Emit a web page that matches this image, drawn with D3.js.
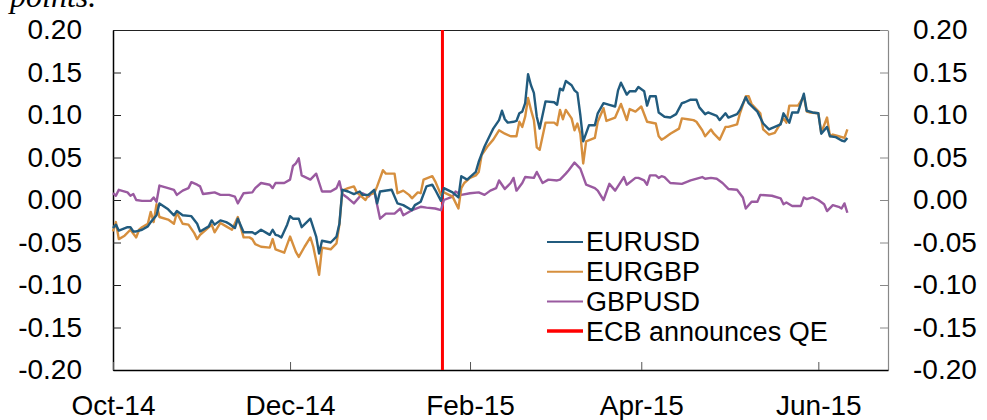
<!DOCTYPE html>
<html>
<head>
<meta charset="utf-8">
<script src="https://cdn.jsdelivr.net/npm/d3@7"></script>
<style>
  body { margin: 0; background: #fff; }
  svg text { font-family: "Liberation Sans", Arial, sans-serif; fill: #000; }
</style>
</head>
<body>
<svg id="chart" width="987" height="420"></svg>
<script>
// daily moves, percentage points
const eurusd = [
  ["2014-10-01",-0.033],["2014-10-02",-0.029],["2014-10-03",-0.036],["2014-10-06",-0.032],["2014-10-07",-0.032],
  ["2014-10-08",-0.037],["2014-10-09",-0.037],["2014-10-11",-0.035],["2014-10-13",-0.031],["2014-10-14",-0.026],
  ["2014-10-16",-0.018],["2014-10-17",-0.004],["2014-10-20",-0.011],["2014-10-22",-0.018],["2014-10-23",-0.013],
  ["2014-10-25",-0.018],["2014-10-28",-0.019],["2014-10-30",-0.028],["2014-10-31",-0.037],["2014-11-03",-0.031],
  ["2014-11-04",-0.024],["2014-11-05",-0.029],["2014-11-07",-0.024],["2014-11-09",-0.026],["2014-11-10",-0.028],
  ["2014-11-12",-0.033],["2014-11-13",-0.022],["2014-11-15",-0.038],["2014-11-18",-0.038],["2014-11-19",-0.040],
  ["2014-11-21",-0.035],["2014-11-23",-0.039],["2014-11-24",-0.041],["2014-11-25",-0.035],["2014-11-26",-0.041],
  ["2014-11-27",-0.042],["2014-11-28",-0.044],["2014-11-30",-0.029],["2014-12-01",-0.019],["2014-12-02",-0.022],
  ["2014-12-04",-0.022],["2014-12-05",-0.032],["2014-12-08",-0.022],["2014-12-10",-0.043],["2014-12-11",-0.063],
  ["2014-12-12",-0.048],["2014-12-15",-0.050],["2014-12-17",-0.043],["2014-12-18",-0.028],["2014-12-19",0.012],
  ["2014-12-21",0.010],["2014-12-23",0.007],["2014-12-25",0.010],["2014-12-26",0.006],["2014-12-28",0.006],
  ["2014-12-30",0.012],["2014-12-31",-0.004],["2015-01-01",0.010],["2015-01-05",0.012],["2015-01-07",-0.004],
  ["2015-01-09",-0.006],["2015-01-12",-0.012],["2015-01-13",-0.006],["2015-01-15",-0.002],["2015-01-17",0.016],
  ["2015-01-19",0.018],["2015-01-20",0.012],["2015-01-22",-0.001],["2015-01-23",0.014],["2015-01-26",0.009],
  ["2015-01-28",0.003],["2015-01-29",0.028],["2015-01-31",0.024],["2015-02-03",0.033],["2015-02-04",0.045],
  ["2015-02-06",0.063],["2015-02-08",0.077],["2015-02-09",0.084],["2015-02-11",0.094],["2015-02-12",0.105],
  ["2015-02-13",0.095],["2015-02-14",0.091],["2015-02-16",0.092],["2015-02-17",0.093],["2015-02-18",0.102],
  ["2015-02-19",0.104],["2015-02-20",0.114],["2015-02-21",0.148],["2015-02-22",0.135],["2015-02-23",0.126],
  ["2015-02-24",0.098],["2015-02-25",0.084],["2015-02-27",0.116],["2015-03-02",0.115],["2015-03-03",0.112],
  ["2015-03-04",0.131],["2015-03-05",0.129],["2015-03-06",0.140],["2015-03-08",0.135],["2015-03-09",0.129],
  ["2015-03-10",0.126],["2015-03-11",0.100],["2015-03-12",0.069],["2015-03-14",0.088],["2015-03-16",0.088],
  ["2015-03-17",0.102],["2015-03-19",0.114],["2015-03-21",0.112],["2015-03-23",0.110],["2015-03-24",0.129],
  ["2015-03-25",0.138],["2015-03-27",0.124],["2015-03-28",0.128],["2015-03-30",0.128],["2015-03-31",0.133],
  ["2015-04-02",0.128],["2015-04-03",0.111],["2015-04-04",0.122],["2015-04-06",0.122],["2015-04-07",0.103],
  ["2015-04-09",0.098],["2015-04-11",0.097],["2015-04-13",0.101],["2015-04-15",0.114],["2015-04-16",0.115],
  ["2015-04-18",0.118],["2015-04-20",0.118],["2015-04-21",0.109],["2015-04-23",0.101],["2015-04-24",0.103],
  ["2015-04-27",0.099],["2015-04-28",0.094],["2015-04-30",0.102],["2015-05-01",0.097],["2015-05-04",0.101],
  ["2015-05-05",0.106],["2015-05-07",0.121],["2015-05-08",0.114],["2015-05-11",0.104],["2015-05-13",0.090],
  ["2015-05-15",0.083],["2015-05-17",0.086],["2015-05-19",0.089],["2015-05-20",0.102],["2015-05-22",0.091],
  ["2015-05-23",0.103],["2015-05-25",0.103],["2015-05-26",0.114],["2015-05-27",0.125],["2015-05-28",0.105],
  ["2015-05-30",0.103],["2015-06-01",0.102],["2015-06-02",0.078],["2015-06-04",0.086],["2015-06-05",0.075],
  ["2015-06-07",0.074],["2015-06-09",0.070],["2015-06-10",0.069],["2015-06-11",0.073]
];

const eurgbp = [
  ["2014-10-01",-0.037],["2014-10-02",-0.026],["2014-10-03",-0.046],["2014-10-05",-0.042],["2014-10-07",-0.035],
  ["2014-10-09",-0.044],["2014-10-10",-0.035],["2014-10-11",-0.032],["2014-10-13",-0.028],["2014-10-14",-0.014],
  ["2014-10-15",-0.026],["2014-10-16",-0.005],["2014-10-17",-0.020],["2014-10-20",-0.023],["2014-10-22",-0.028],
  ["2014-10-23",-0.015],["2014-10-25",-0.028],["2014-10-27",-0.029],["2014-10-29",-0.039],["2014-10-30",-0.046],
  ["2014-10-31",-0.041],["2014-11-02",-0.035],["2014-11-04",-0.029],["2014-11-05",-0.038],["2014-11-07",-0.027],
  ["2014-11-09",-0.031],["2014-11-11",-0.035],["2014-11-13",-0.020],["2014-11-15",-0.044],["2014-11-17",-0.044],
  ["2014-11-18",-0.046],["2014-11-19",-0.052],["2014-11-21",-0.055],["2014-11-24",-0.056],["2014-11-25",-0.046],
  ["2014-11-26",-0.058],["2014-11-29",-0.062],["2014-12-01",-0.043],["2014-12-03",-0.061],["2014-12-04",-0.067],
  ["2014-12-06",-0.055],["2014-12-08",-0.044],["2014-12-09",-0.055],["2014-12-11",-0.088],["2014-12-12",-0.056],
  ["2014-12-15",-0.058],["2014-12-17",-0.051],["2014-12-18",-0.029],["2014-12-19",0.011],["2014-12-21",0.014],
  ["2014-12-23",0.016],["2014-12-24",0.009],["2014-12-27",0.000],["2014-12-28",0.006],["2014-12-30",0.008],
  ["2014-12-31",0.016],["2015-01-02",0.035],["2015-01-03",0.031],["2015-01-06",0.031],["2015-01-07",0.008],
  ["2015-01-09",0.011],["2015-01-11",0.006],["2015-01-12",0.002],["2015-01-14",0.009],["2015-01-15",0.008],
  ["2015-01-16",0.024],["2015-01-19",0.028],["2015-01-20",0.022],["2015-01-22",0.006],["2015-01-23",0.009],
  ["2015-01-26",0.004],["2015-01-28",-0.010],["2015-01-29",0.014],["2015-01-30",0.020],["2015-02-01",0.026],
  ["2015-02-03",0.029],["2015-02-04",0.033],["2015-02-05",0.053],["2015-02-07",0.063],["2015-02-09",0.071],
  ["2015-02-11",0.082],["2015-02-13",0.078],["2015-02-15",0.075],["2015-02-17",0.075],["2015-02-18",0.092],
  ["2015-02-19",0.086],["2015-02-20",0.098],["2015-02-21",0.120],["2015-02-22",0.106],["2015-02-23",0.094],
  ["2015-02-24",0.062],["2015-02-25",0.059],["2015-02-27",0.091],["2015-03-02",0.091],["2015-03-03",0.088],
  ["2015-03-04",0.106],["2015-03-05",0.095],["2015-03-06",0.106],["2015-03-08",0.096],["2015-03-09",0.082],
  ["2015-03-10",0.090],["2015-03-11",0.078],["2015-03-12",0.043],["2015-03-13",0.069],["2015-03-16",0.073],
  ["2015-03-17",0.092],["2015-03-19",0.108],["2015-03-20",0.093],["2015-03-23",0.097],["2015-03-25",0.113],
  ["2015-03-27",0.094],["2015-03-28",0.107],["2015-03-30",0.104],["2015-04-01",0.110],["2015-04-03",0.092],
  ["2015-04-06",0.090],["2015-04-07",0.075],["2015-04-08",0.071],["2015-04-09",0.073],["2015-04-11",0.078],
  ["2015-04-14",0.084],["2015-04-15",0.096],["2015-04-17",0.095],["2015-04-19",0.094],["2015-04-20",0.092],
  ["2015-04-22",0.082],["2015-04-23",0.075],["2015-04-25",0.083],["2015-04-26",0.078],["2015-04-28",0.071],
  ["2015-04-30",0.086],["2015-05-01",0.086],["2015-05-04",0.089],["2015-05-05",0.102],["2015-05-07",0.122],
  ["2015-05-08",0.122],["2015-05-09",0.113],["2015-05-12",0.102],["2015-05-13",0.083],["2015-05-15",0.077],
  ["2015-05-17",0.079],["2015-05-20",0.096],["2015-05-21",0.091],["2015-05-22",0.111],["2015-05-25",0.111],
  ["2015-05-27",0.122],["2015-05-28",0.104],["2015-05-29",0.103],["2015-06-01",0.102],["2015-06-02",0.079],
  ["2015-06-04",0.097],["2015-06-05",0.075],["2015-06-06",0.077],["2015-06-08",0.075],["2015-06-10",0.073],
  ["2015-06-11",0.083]
];

const gbpusd = [
  ["2014-10-01",0.008],["2014-10-02",0.005],["2014-10-03",0.012],["2014-10-06",0.009],["2014-10-07",0.005],
  ["2014-10-08",0.007],["2014-10-09",0.000],["2014-10-11",-0.001],["2014-10-14",-0.001],["2014-10-15",0.003],
  ["2014-10-16",-0.002],["2014-10-17",0.017],["2014-10-20",0.014],["2014-10-22",0.012],["2014-10-23",0.006],
  ["2014-10-25",0.011],["2014-10-27",0.014],["2014-10-28",0.021],["2014-10-30",0.018],["2014-10-31",0.016],
  ["2014-11-01",0.007],["2014-11-03",0.008],["2014-11-05",0.009],["2014-11-07",0.006],["2014-11-10",0.006],
  ["2014-11-12",0.004],["2014-11-13",-0.004],["2014-11-15",0.008],["2014-11-18",0.009],["2014-11-19",0.014],
  ["2014-11-21",0.020],["2014-11-24",0.018],["2014-11-25",0.014],["2014-11-26",0.020],["2014-11-29",0.020],
  ["2014-12-01",0.024],["2014-12-02",0.040],["2014-12-03",0.043],["2014-12-04",0.049],["2014-12-05",0.029],
  ["2014-12-08",0.024],["2014-12-10",0.031],["2014-12-12",0.010],["2014-12-15",0.010],["2014-12-17",0.014],
  ["2014-12-18",0.022],["2014-12-19",0.007],["2014-12-21",0.002],["2014-12-23",-0.004],["2014-12-26",0.008],
  ["2014-12-28",0.004],["2014-12-30",0.011],["2014-12-31",-0.006],["2015-01-01",-0.022],["2015-01-03",-0.016],
  ["2015-01-06",-0.016],["2015-01-08",-0.010],["2015-01-09",-0.018],["2015-01-12",-0.012],["2015-01-15",-0.008],
  ["2015-01-17",-0.009],["2015-01-20",-0.010],["2015-01-22",-0.012],["2015-01-23",0.000],["2015-01-26",0.004],
  ["2015-01-27",0.010],["2015-01-29",0.006],["2015-02-01",0.008],["2015-02-04",0.009],["2015-02-06",0.006],
  ["2015-02-08",0.011],["2015-02-10",0.014],["2015-02-11",0.023],["2015-02-13",0.013],["2015-02-15",0.020],
  ["2015-02-16",0.026],["2015-02-17",0.011],["2015-02-19",0.020],["2015-02-20",0.027],["2015-02-23",0.026],
  ["2015-02-24",0.033],["2015-02-26",0.020],["2015-02-28",0.024],["2015-03-03",0.023],["2015-03-04",0.024],
  ["2015-03-06",0.031],["2015-03-07",0.035],["2015-03-09",0.044],["2015-03-11",0.037],["2015-03-13",0.018],
  ["2015-03-16",0.014],["2015-03-17",0.011],["2015-03-19",0.000],["2015-03-21",0.019],["2015-03-23",0.011],
  ["2015-03-26",0.027],["2015-03-27",0.018],["2015-03-30",0.026],["2015-03-31",0.026],["2015-04-02",0.023],
  ["2015-04-03",0.018],["2015-04-04",0.029],["2015-04-06",0.029],["2015-04-07",0.026],["2015-04-08",0.028],
  ["2015-04-09",0.027],["2015-04-11",0.020],["2015-04-15",0.019],["2015-04-18",0.023],["2015-04-22",0.027],
  ["2015-04-23",0.025],["2015-04-25",0.026],["2015-04-27",0.025],["2015-04-29",0.020],["2015-05-01",0.013],
  ["2015-05-04",0.012],["2015-05-06",0.003],["2015-05-07",-0.010],["2015-05-09",-0.002],["2015-05-11",-0.002],
  ["2015-05-12",0.006],["2015-05-16",0.005],["2015-05-19",0.002],["2015-05-20",-0.005],["2015-05-21",-0.003],
  ["2015-05-23",-0.007],["2015-05-26",-0.007],["2015-05-27",0.003],["2015-05-28",0.001],["2015-05-30",0.003],
  ["2015-06-01",0.000],["2015-06-03",-0.005],["2015-06-04",-0.013],["2015-06-06",-0.006],["2015-06-08",-0.008],
  ["2015-06-09",-0.010],["2015-06-10",-0.004],["2015-06-11",-0.015]
];

const qeDate = "2015-01-22";
const xTicks = ["2014-10-01", "2014-12-01", "2015-02-01", "2015-04-01", "2015-06-01"];
const yTicks = [-0.20, -0.15, -0.10, -0.05, 0.00, 0.05, 0.10, 0.15, 0.20];

const seriesNames = ["EURUSD", "EURGBP", "GBPUSD", "ECB announces QE"];
const seriesColors = ["#215B7E", "#D68F3E", "#9A5AA0", "#FF0000"];

const parse = d3.utcParse("%Y-%m-%d");
const fmtX = d3.utcFormat("%b-%y");
const fmtY = d => d.toFixed(2);   // plain hyphen minus, as in the original

const plotLeft = 113, plotRight = 888, plotTop = 30, plotBottom = 370;

const svg = d3.select("#chart");

const x = d3.scaleUtc()
  .domain([parse("2014-10-01"), parse("2015-06-25")])
  .range([plotLeft, plotRight]);

const y = d3.scaleLinear()
  .domain([-0.2, 0.2])
  .range([plotBottom, plotTop]);

// frame top
svg.append("line")
  .attr("x1", plotLeft).attr("x2", plotRight)
  .attr("y1", plotTop + 0.5).attr("y2", plotTop + 0.5)
  .attr("stroke", "#222").attr("stroke-width", 1);

// left axis
const yLeft = svg.append("g")
  .attr("transform", `translate(${plotLeft},0)`)
  .call(d3.axisLeft(y).tickValues(yTicks).tickFormat(fmtY)
    .tickSize(-8).tickSizeOuter(0).tickPadding(31));
yLeft.select(".domain").attr("stroke", "#000").attr("stroke-width", 1.5);
yLeft.selectAll(".tick line").attr("stroke", "#222");

// right axis
const yRight = svg.append("g")
  .attr("transform", `translate(${plotRight},0)`)
  .call(d3.axisRight(y).tickValues(yTicks).tickFormat(fmtY)
    .tickSize(-8).tickSizeOuter(0).tickPadding(25));
yRight.select(".domain").attr("stroke", "#888").attr("stroke-width", 1.2);
yRight.selectAll(".tick line").attr("stroke", "#888");

// bottom axis
const xAxis = svg.append("g")
  .attr("transform", `translate(0,${plotBottom})`)
  .call(d3.axisBottom(x).tickValues(xTicks.map(parse)).tickFormat(fmtX)
    .tickSize(-8).tickSizeOuter(0).tickPadding(25));
xAxis.select(".domain").attr("stroke", "#000").attr("stroke-width", 1.5);
xAxis.selectAll(".tick line").attr("stroke", "#555");

svg.selectAll(".tick text")
  .style("font-size", "28px")
  .style("font-family", "'Liberation Sans', Arial, sans-serif")
  .attr("fill", "#000");

// ECB line, placed mid-day like the daily points
const qeX = x(d3.utcHour.offset(parse(qeDate), 12));
svg.append("line")
  .attr("x1", qeX).attr("x2", qeX)
  .attr("y1", plotTop).attr("y2", plotBottom)
  .attr("stroke", seriesColors[3]).attr("stroke-width", 3);

const line = d3.line()
  .x(d => x(parse(d[0])))
  .y(d => y(d[1]));

// draw purple first, blue on top
[[gbpusd, 2], [eurgbp, 1], [eurusd, 0]].forEach(([data, i]) => {
  svg.append("path")
    .datum(data)
    .attr("fill", "none")
    .attr("stroke", seriesColors[i])
    .attr("stroke-width", 2.4)
    .attr("stroke-linejoin", "round")
    .attr("d", line);
});

// legend
const legend = svg.append("g").attr("transform", "translate(547,242)");
seriesNames.forEach((name, i) => {
  legend.append("line")
    .attr("x1", 0).attr("x2", 36)
    .attr("y1", i * 29.7).attr("y2", i * 29.7)
    .attr("stroke", seriesColors[i])
    .attr("stroke-width", i === 3 ? 3.5 : 2);
  legend.append("text")
    .attr("x", 39).attr("y", i * 29.7)
    .attr("dy", "0.35em")
    .style("font-size", "27px")
    .text(name);
});

// axis title, mostly off the top of the frame
svg.append("text")
  .attr("x", 10).attr("y", 7)
  .style("font-family", "'Liberation Serif', 'Times New Roman', serif")
  .style("font-style", "italic")
  .style("font-size", "32px")
  .text("points.");
</script>
</body>
</html>
